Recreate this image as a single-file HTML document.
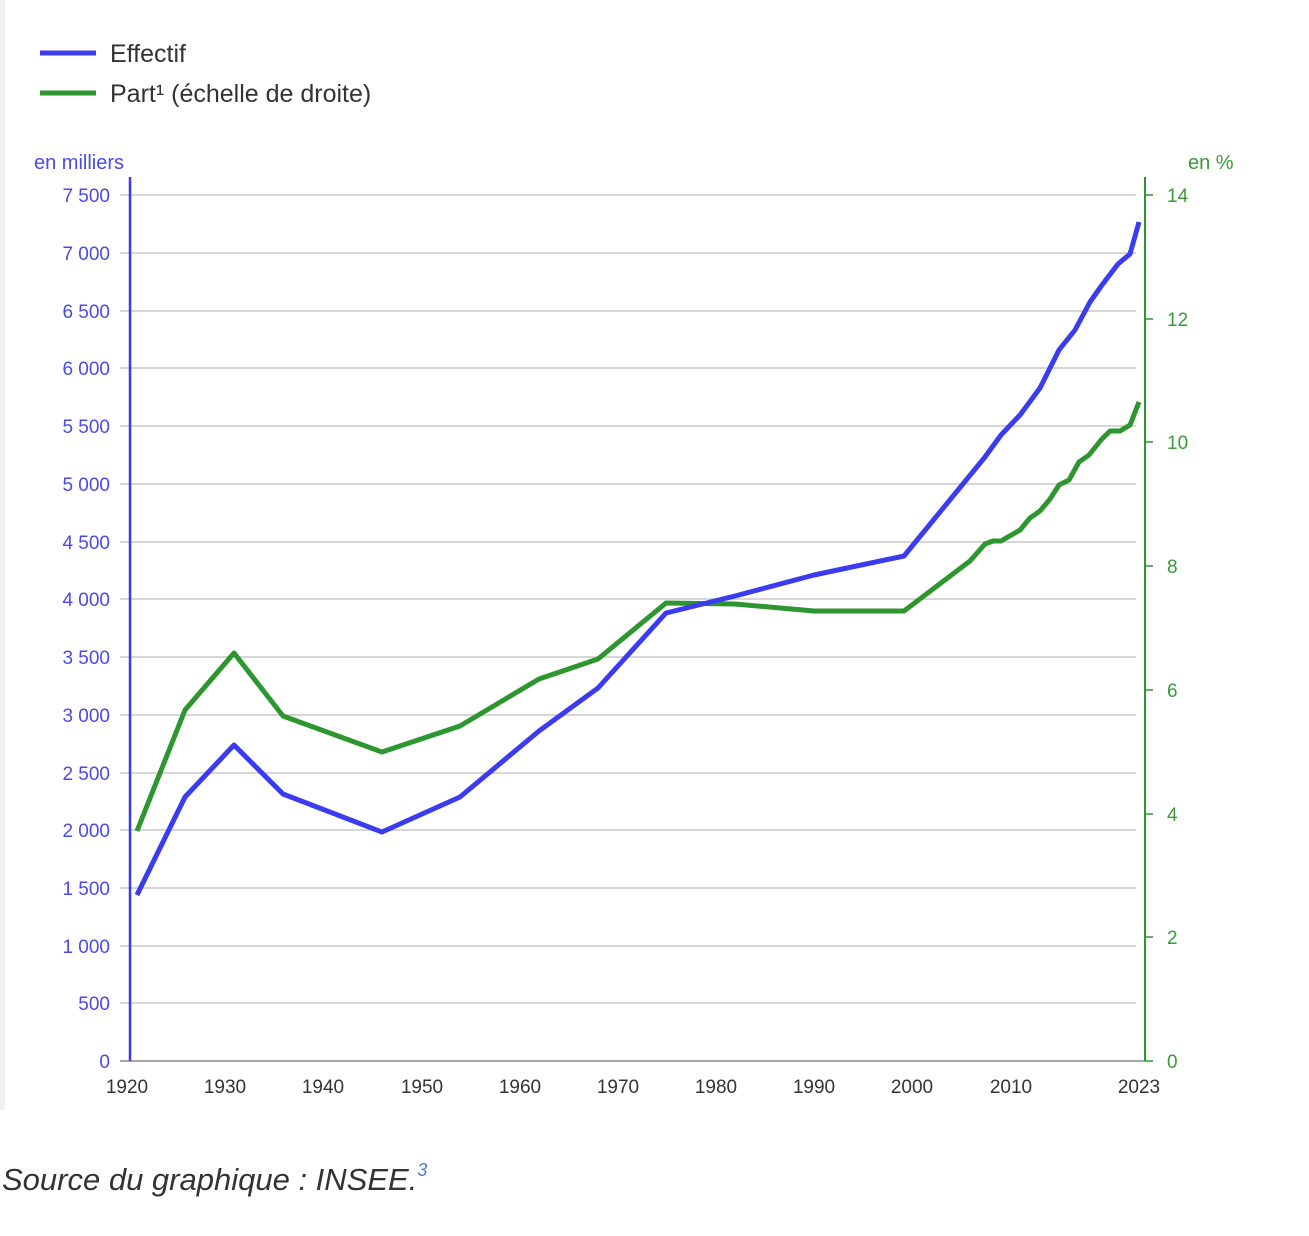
<!DOCTYPE html>
<html><head><meta charset="utf-8"><style>
body{margin:0;background:#fff;width:1309px;height:1231px;overflow:hidden;font-family:"Liberation Sans",sans-serif}
</style></head><body>
<svg width="1309" height="1231" xmlns="http://www.w3.org/2000/svg" font-family="Liberation Sans, sans-serif">
<rect x="0" y="0" width="5" height="1110" fill="#f0f0f0"/>
<line x1="40" y1="53" x2="96" y2="53" stroke="#3b3bf0" stroke-width="5"/>
<text x="110" y="62" font-size="25" fill="#333">Effectif</text>
<line x1="40" y1="93" x2="96" y2="93" stroke="#2e962e" stroke-width="5"/>
<text x="110" y="102" font-size="25" fill="#333">Part¹ (échelle de droite)</text>
<text x="34" y="169" font-size="20" fill="#4a4ae8">en milliers</text>
<text x="1188" y="169" font-size="20" fill="#3a9a3a">en %</text>
<g stroke="#c8c8c8" stroke-width="1.5">
<line x1="120" x2="1136" y1="195" y2="195"/><line x1="120" x2="1136" y1="253" y2="253"/><line x1="120" x2="1136" y1="311" y2="311"/><line x1="120" x2="1136" y1="368" y2="368"/><line x1="120" x2="1136" y1="426" y2="426"/><line x1="120" x2="1136" y1="484" y2="484"/><line x1="120" x2="1136" y1="542" y2="542"/><line x1="120" x2="1136" y1="599" y2="599"/><line x1="120" x2="1136" y1="657" y2="657"/><line x1="120" x2="1136" y1="715" y2="715"/><line x1="120" x2="1136" y1="773" y2="773"/><line x1="120" x2="1136" y1="830" y2="830"/><line x1="120" x2="1136" y1="888" y2="888"/><line x1="120" x2="1136" y1="946" y2="946"/><line x1="120" x2="1136" y1="1003" y2="1003"/>
</g>
<line x1="120" x2="1145" y1="1061" y2="1061" stroke="#888" stroke-width="1.5"/>
<line x1="130" y1="177" x2="130" y2="1061" stroke="#3b3bf0" stroke-width="2.5"/>
<line x1="1145" y1="177" x2="1145" y2="1061" stroke="#2e962e" stroke-width="2"/>
<g stroke="#2e962e" stroke-width="1.5">
<line x1="1145" x2="1153" y1="195" y2="195"/><line x1="1145" x2="1153" y1="319" y2="319"/><line x1="1145" x2="1153" y1="442" y2="442"/><line x1="1145" x2="1153" y1="566" y2="566"/><line x1="1145" x2="1153" y1="690" y2="690"/><line x1="1145" x2="1153" y1="814" y2="814"/><line x1="1145" x2="1153" y1="937" y2="937"/><line x1="1145" x2="1153" y1="1061" y2="1061"/>
</g>
<g font-size="19" fill="#4a4ae8" text-anchor="end">
<text x="110" y="202">7 500</text><text x="110" y="260">7 000</text><text x="110" y="318">6 500</text><text x="110" y="375">6 000</text><text x="110" y="433">5 500</text><text x="110" y="491">5 000</text><text x="110" y="549">4 500</text><text x="110" y="606">4 000</text><text x="110" y="664">3 500</text><text x="110" y="722">3 000</text><text x="110" y="780">2 500</text><text x="110" y="837">2 000</text><text x="110" y="895">1 500</text><text x="110" y="953">1 000</text><text x="110" y="1010">500</text><text x="110" y="1068">0</text>
</g>
<g font-size="19" fill="#3a9a3a">
<text x="1167" y="202">14</text><text x="1167" y="326">12</text><text x="1167" y="449">10</text><text x="1167" y="573">8</text><text x="1167" y="697">6</text><text x="1167" y="821">4</text><text x="1167" y="944">2</text><text x="1167" y="1068">0</text>
</g>
<g font-size="19" fill="#333" text-anchor="middle">
<text x="127" y="1093">1920</text><text x="225" y="1093">1930</text><text x="323" y="1093">1940</text><text x="422" y="1093">1950</text><text x="520" y="1093">1960</text><text x="618" y="1093">1970</text><text x="716" y="1093">1980</text><text x="814" y="1093">1990</text><text x="912" y="1093">2000</text><text x="1011" y="1093">2010</text><text x="1139" y="1093">2023</text>
</g>
<polyline fill="none" stroke="#2e962e" stroke-width="5" stroke-linejoin="round" points="137,831 185,710 234,653 283,716 382,752 460,726 539,679 598,659 666,603 735,604 814,611 904,611 970,561 985,544 993,541 1001,541 1020,530 1030,518 1040,511 1050,499 1059,485 1069,480 1079,462 1089,455 1101,440 1110,431 1120,431 1130,425 1139,402"/>
<polyline fill="none" stroke="#3b3bf0" stroke-width="5" stroke-linejoin="round" points="137,895 185,797 234,745 283,794 382,832 460,797 539,731 598,688 666,613 735,596 814,575 904,556 985,457 1001,435 1020,415 1040,388 1059,350 1075,330 1090,302 1102,285 1118,264 1130,254 1139,222"/>
<text x="2" y="1190" font-size="31" font-style="italic" fill="#333">Source du graphique : INSEE.<tspan font-size="18" dy="-14" fill="#4a7ad0">3</tspan></text>
</svg>
</body></html>
